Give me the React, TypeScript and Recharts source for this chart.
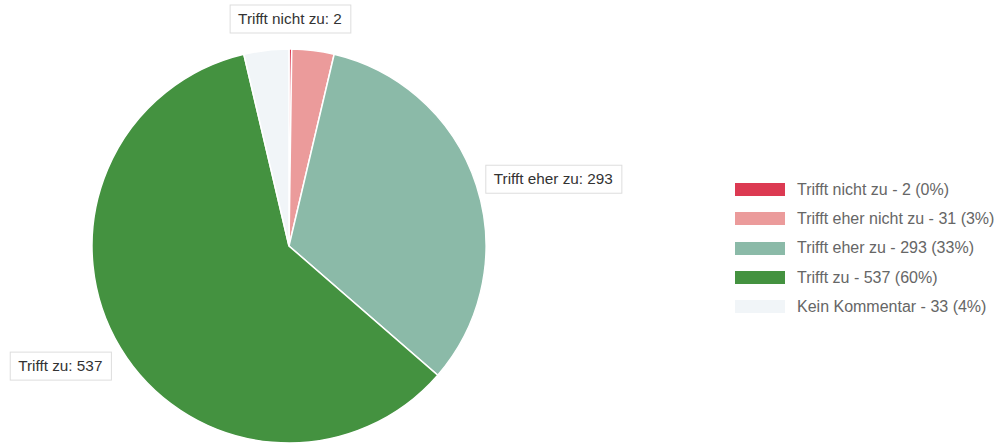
import React from "react";
import { PieChart, Pie, Cell, Legend } from "recharts";

const categories = ["Trifft nicht zu", "Trifft eher nicht zu", "Trifft eher zu", "Trifft zu", "Kein Kommentar"];
const values = [2, 31, 293, 537, 33];
const colors = ["#dc3a52", "#eb9b9b", "#8bbaa8", "#449240", "#f1f5f8"];
const labelled = [true, false, true, true, false];

const total = values.reduce((a, b) => a + b, 0);
const data = categories.map((name, i) => ({ name, value: values[i], color: colors[i], showLabel: labelled[i] }));

const FONT = "'Liberation Sans', Arial, sans-serif";
const LABEL_SIZE = 15.3;
const RAD = Math.PI / 180;

let ctx: CanvasRenderingContext2D | null = null;
function measure(t: string) {
  if (typeof document !== "undefined") {
    if (!ctx) ctx = document.createElement("canvas").getContext("2d");
    if (ctx) {
      ctx.font = `${LABEL_SIZE}px ${FONT}`;
      return ctx.measureText(t).width;
    }
  }
  return t.length * 6;
}

const renderLabel = (props: any) => {
  const { cx, cy, midAngle, outerRadius, index } = props;
  if (!data[index].showLabel) return null;
  const text = `${data[index].name}: ${data[index].value}`;
  const w = measure(text) + 17;
  const h = 28;
  const r = outerRadius + 14;
  const c = Math.cos(-midAngle * RAD);
  const s = Math.sin(-midAngle * RAD);
  const x = cx + r * c;
  const y = cy + r * s;
  let bx: number, by: number;
  if (c > 0.5) {
    bx = x - 4;
    by = y - h / 2 - 2;
  } else if (c < -0.5) {
    bx = x - w + 3;
    by = y - h / 2 + 11;
  } else {
    bx = x - w / 2;
    by = y - h - 2;
  }
  return (
    <g key={`lbl-${index}`}>
      <rect x={bx} y={by} width={w} height={h} fill="#ffffff" stroke="#dddddd" strokeWidth={1} />
      <text x={bx + 8} y={by + h / 2 + 5} fill="#333333" fontSize={LABEL_SIZE} fontFamily={FONT}>
        {text}
      </text>
    </g>
  );
};

const renderLegend = () => (
  <div style={{ fontFamily: FONT, fontSize: 16, color: "#666666" }}>
    {data.map((d, i) => (
      <div key={i} style={{ display: "flex", alignItems: "center", height: 29.3 }}>
        <div style={{ width: 50, height: 13, background: d.color, marginRight: 12 }} />
        <span>{`${d.name} - ${d.value} (${Math.round((d.value / total) * 100)}%)`}</span>
      </div>
    ))}
  </div>
);

export default function App() {
  return (
    <div style={{ position: "absolute", left: 0, top: 0, width: 998, height: 448, background: "#ffffff" }}>
      <PieChart width={998} height={448} margin={{ top: 0, right: 0, bottom: 0, left: 0 }}>
        <Pie
          data={data}
          dataKey="value"
          nameKey="name"
          cx={289}
          cy={246}
          outerRadius={197}
          startAngle={90}
          endAngle={-270}
          stroke="#ffffff"
          strokeWidth={1.5}
          label={renderLabel}
          labelLine={false}
          isAnimationActive={false}
        >
          {data.map((d, i) => (
            <Cell key={i} fill={d.color} />
          ))}
        </Pie>
        <Legend
          content={renderLegend}
          layout="vertical"
          wrapperStyle={{ position: "absolute", left: 735, top: 175, width: 262 }}
        />
      </PieChart>
    </div>
  );
}
